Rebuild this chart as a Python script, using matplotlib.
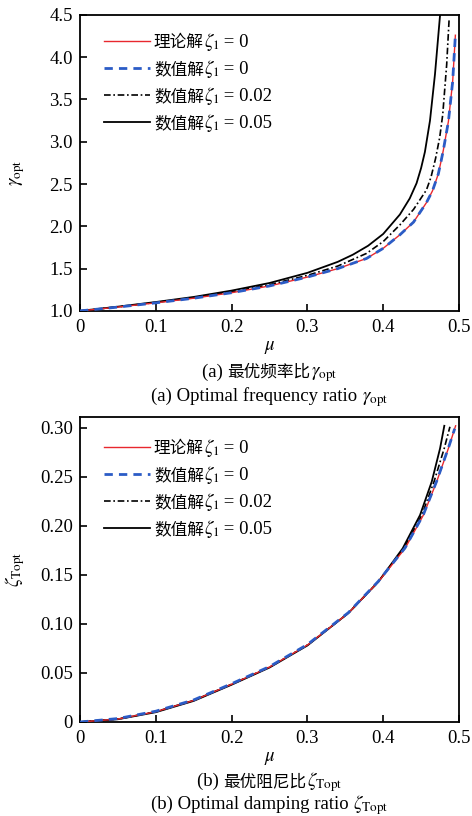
import matplotlib
matplotlib.use("Agg")
import matplotlib.pyplot as plt
from matplotlib.lines import Line2D
from matplotlib.offsetbox import (TextArea, HPacker, VPacker, DrawingArea,
                                  AnchoredOffsetbox, AnnotationBbox)

plt.rcParams['font.family'] = ['Liberation Serif', 'Noto Sans CJK SC', 'DejaVu Sans']
plt.rcParams['mathtext.fontset'] = 'stix'
LAT = 13.5   # latin / math text size
CJK = 12     # chinese text size

# -----------------------------
# data
# -----------------------------
# (a) optimal frequency ratio gamma_opt
mu_g_theory = [0, 0.05, 0.1, 0.15, 0.2, 0.25, 0.3, 0.34, 0.378, 0.40, 0.422, 0.44,
               0.457, 0.465, 0.4727, 0.4763, 0.4793, 0.486, 0.4916, 0.4952]
g_theory = [1.0, 1.045, 1.095, 1.15, 1.215, 1.295, 1.40, 1.50, 1.62, 1.74, 1.90, 2.05,
            2.28, 2.42, 2.62, 2.77, 2.90, 3.24, 3.71, 4.26]
mu_g_num0 = mu_g_theory
g_num0 = g_theory
mu_g_num02 = [0, 0.05, 0.1, 0.15, 0.2, 0.25, 0.3, 0.34, 0.378, 0.40, 0.422, 0.44,
              0.457, 0.463, 0.469, 0.4745, 0.4785, 0.4837, 0.487]
g_num02 = [1.0, 1.047, 1.10, 1.155, 1.225, 1.31, 1.42, 1.53, 1.68, 1.82, 2.017, 2.20,
           2.43, 2.58, 2.80, 3.05, 3.32, 3.91, 4.46]
mu_g_num05 = [0, 0.05, 0.1, 0.15, 0.2, 0.25, 0.3, 0.34, 0.36, 0.38, 0.40, 0.422, 0.435,
              0.444, 0.450, 0.455, 0.4617, 0.4683, 0.475, 0.4765]
g_num05 = [1.0, 1.05, 1.105, 1.165, 1.24, 1.33, 1.45, 1.58, 1.665, 1.77, 1.91, 2.14, 2.33,
           2.51, 2.69, 2.88, 3.25, 3.80, 4.50, 4.75]

# (b) optimal damping ratio zeta_Topt
mu_z_theory = [0, 0.05, 0.1, 0.15, 0.2, 0.25, 0.3, 0.354, 0.3936, 0.4288, 0.453,
               0.4705, 0.486, 0.4955]
z_theory = [0, 0.003, 0.0105, 0.022, 0.0385, 0.056, 0.0785, 0.111, 0.143, 0.177, 0.211,
            0.245, 0.279, 0.302]
mu_z_num0 = [0, 0.05, 0.1, 0.15, 0.2, 0.25, 0.3, 0.354, 0.3936, 0.4288, 0.453,
             0.4705, 0.486, 0.4943]
z_num0 = [0, 0.0035, 0.011, 0.0225, 0.039, 0.0565, 0.079, 0.1115, 0.1435, 0.1775, 0.2115,
          0.2455, 0.2795, 0.299]
mu_z_num02 = [0, 0.05, 0.1, 0.15, 0.2, 0.25, 0.3, 0.354, 0.3936, 0.4272, 0.451,
              0.467, 0.4805, 0.488]
z_num02 = [0, 0.003, 0.0105, 0.022, 0.0385, 0.056, 0.0785, 0.111, 0.143, 0.177, 0.211,
           0.245, 0.279, 0.301]
mu_z_num05 = [0, 0.05, 0.1, 0.15, 0.2, 0.25, 0.3, 0.354, 0.3936, 0.4257, 0.4486,
              0.464, 0.475, 0.4806]
z_num05 = [0, 0.0028, 0.0100, 0.0215, 0.038, 0.0555, 0.078, 0.111, 0.143, 0.177, 0.211,
           0.245, 0.279, 0.302]

# legend labels split into: chinese part, math symbol, value
label_cn = ['理论解', '数值解', '数值解', '数值解']
label_sym = r'$\zeta_1$'
label_val = [' = 0', ' = 0', ' = 0.02', ' = 0.05']

x_ticks = [0, 0.1, 0.2, 0.3, 0.4, 0.5]
x_ticklabels = ['0', '0.1', '0.2', '0.3', '0.4', '0.5']
g_ticks = [1.0, 1.5, 2.0, 2.5, 3.0, 3.5, 4.0, 4.5]
g_ticklabels = ['1.0', '1.5', '2.0', '2.5', '3.0', '3.5', '4.0', '4.5']
z_ticks = [0, 0.05, 0.10, 0.15, 0.20, 0.25, 0.30]
z_ticklabels = ['0', '0.05', '0.10', '0.15', '0.20', '0.25', '0.30']

RED = '#e8282e'
BLUE = '#2b5cc6'
styles = [dict(color=RED, lw=1.0),
          dict(color=BLUE, lw=2.0, dashes=(3, 2.2)),
          dict(color='black', lw=1.2, dashes=(4, 1.6, 1, 1.6)),
          dict(color='black', lw=1.3)]
zorders = [3, 4, 2, 2]

fig = plt.figure(figsize=(4.72, 8.16), dpi=100)
ax1 = fig.add_axes([0.1695, 0.619, 0.803, 0.3627])
ax2 = fig.add_axes([0.1695, 0.1152, 0.803, 0.3738])


def mixed_text(parts):
    boxes = [TextArea(p, textprops=dict(fontsize=s)) for p, s in parts]
    return HPacker(children=boxes, align='baseline', pad=0, sep=0)


def add_legend(ax, anchor):
    rows = []
    for i in range(4):
        da = DrawingArea(33, 9, 0, 0)
        da.add_artist(Line2D([0, 33], [4.5, 4.5], **styles[i]))
        txt = mixed_text([(label_cn[i], CJK), (label_sym, LAT), (label_val[i], LAT)])
        rows.append(HPacker(children=[da, txt], align='baseline', pad=0, sep=3))
    box = VPacker(children=rows, align='left', pad=0, sep=3.6)
    ab = AnchoredOffsetbox(loc='upper left', child=box, bbox_to_anchor=anchor,
                           bbox_transform=ax.transAxes, frameon=False, pad=0, borderpad=0)
    ax.add_artist(ab)


def draw(ax, series):
    for (m, y), st, z in zip(series, styles, zorders):
        ax.plot(m, y, zorder=z, **st)
    ax.set_xlim(0, 0.5)
    ax.set_xticks(x_ticks)
    ax.set_xticklabels(x_ticklabels)
    ax.tick_params(direction='in', length=5, width=1.2, top=False, right=False,
                   labelsize=LAT)
    ax.tick_params(axis='x', pad=6)
    ax.tick_params(axis='y', pad=5)
    for s in ax.spines.values():
        s.set_linewidth(1.3)
    ax.set_xlabel(r'$\mu$', fontsize=LAT, labelpad=2)


draw(ax1, [(mu_g_theory, g_theory), (mu_g_num0, g_num0),
           (mu_g_num02, g_num02), (mu_g_num05, g_num05)])
ax1.set_ylim(1.0, 4.5)
ax1.set_yticks(g_ticks)
ax1.set_yticklabels(g_ticklabels)
ax1.set_ylabel(r'$\gamma_{\rm opt}$', fontsize=LAT)
ax1.yaxis.set_label_coords(-0.140, 0.466)
add_legend(ax1, (0.063, 0.946))

draw(ax2, [(mu_z_theory, z_theory), (mu_z_num0, z_num0),
           (mu_z_num02, z_num02), (mu_z_num05, z_num05)])
ax2.set_ylim(0, 0.311)
ax2.set_yticks(z_ticks)
ax2.set_yticklabels(z_ticklabels)
ax2.set_ylabel(r'$\zeta_{\rm Topt}$', fontsize=LAT)
ax2.yaxis.set_label_coords(-0.140, 0.5)
add_legend(ax2, (0.063, 0.934))

# captions under each panel
captions = [([('(a) ', LAT), ('最优频率比', CJK), (r'$\gamma_{\rm opt}$', LAT)], 374),
            ([('(a) Optimal frequency ratio ', LAT), (r'$\gamma_{\rm opt}$', LAT)], 398),
            ([('(b) ', LAT), ('最优阻尼比', CJK), (r'$\zeta_{\rm Topt}$', LAT)], 782),
            ([('(b) Optimal damping ratio ', LAT), (r'$\zeta_{\rm Topt}$', LAT)], 805)]
cx = 0.1695 + 0.803 / 2
for parts, ypx in captions:
    ab = AnnotationBbox(mixed_text(parts), (cx, 1 - ypx / 816), xycoords='figure fraction',
                        frameon=False, box_alignment=(0.5, 0.5), pad=0)
    fig.add_artist(ab)

fig.savefig('out.png', dpi=100)
